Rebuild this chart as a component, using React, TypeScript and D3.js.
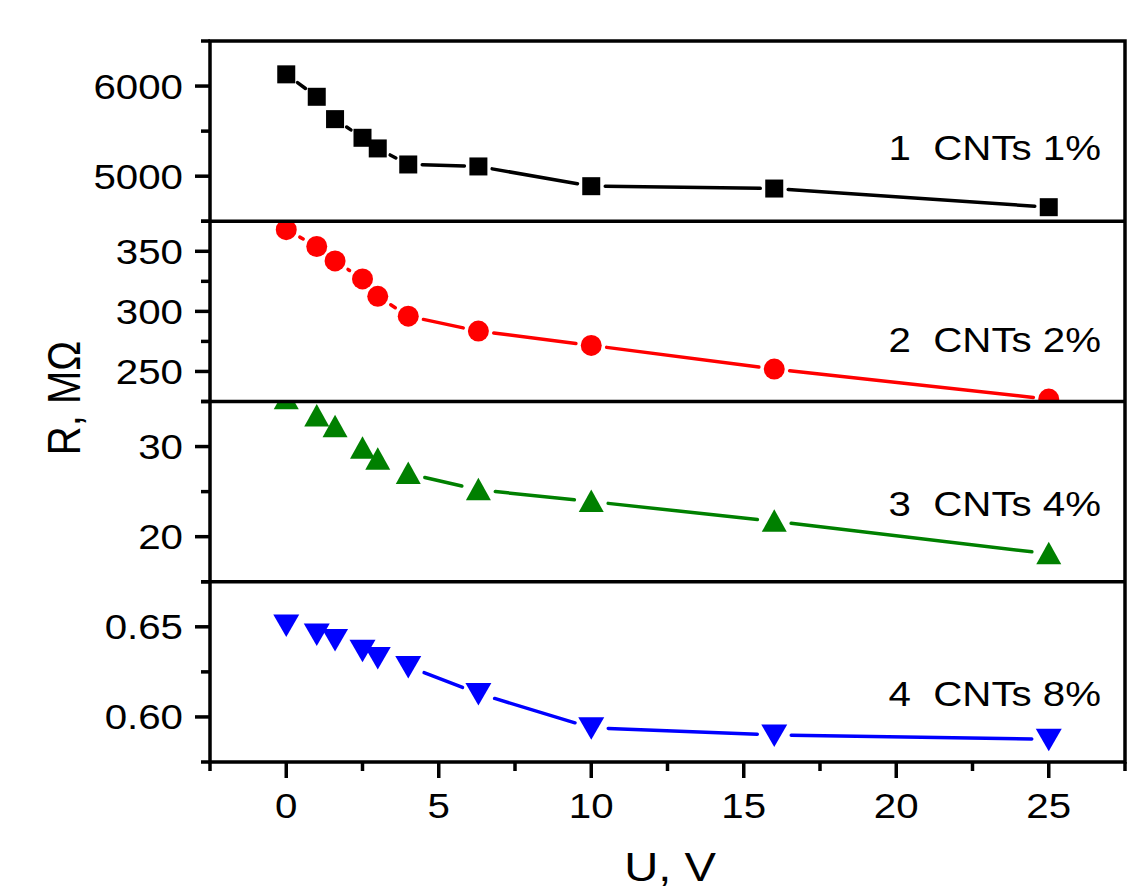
import React from "react";
import * as d3 from "d3";

const voltages = [0, 1, 1.6, 2.5, 3, 4, 6.3, 10, 16, 25];
const series1 = [6130, 5881, 5633, 5426, 5308, 5130, 5108, 4889, 4863, 4656];
const series2 = [368, 354, 342, 327, 312.5, 296, 283.6, 271.7, 252, 227];
const series3 = [35.3, 33.4, 32.2, 29.8, 28.6, 27.0, 25.2, 23.9, 21.7, 18.1];
const series4 = [0.651, 0.646, 0.643, 0.637, 0.633, 0.628, 0.613, 0.594, 0.590, 0.5876];

const labels = ["1  CNTs 1%", "2  CNTs 2%", "3  CNTs 4%", "4  CNTs 8%"];
const colors = ["#000000", "#ff0000", "#008000", "#0000ff"];
const symbols = ["square", "circle", "up", "down"];
const domains: [number, number][] = [[4500, 6500], [225, 375], [15, 35], [0.575, 0.675]];
const majorTicks = [[5000, 6000], [250, 300, 350], [20, 30], [0.6, 0.65]];
const minorTicks = [[4500, 5500, 6500], [225, 275, 325, 375], [15, 25, 35], [0.575, 0.625, 0.675]];
const tickFormats = [(v: number) => String(v), (v: number) => String(v), (v: number) => String(v), (v: number) => v.toFixed(2)];
const xMajor = [0, 5, 10, 15, 20, 25];
const xMinor = [-2.5, 2.5, 7.5, 12.5, 17.5, 22.5, 27.5];
const labelBaselineOffsets = [119, 131, 114, 124];

const W = 1147, H = 890;
const left = 210, right = 1125, top = 41, bottom = 762;
const panelH = (bottom - top) / 4;
const SX = 1.15;
const FONT = "'Liberation Sans', Arial, sans-serif";

function Marker({ type, x, y, color }: { type: string; x: number; y: number; color: string }) {
  if (type === "square") return <rect x={x - 9} y={y - 9} width={18} height={18} fill={color} />;
  if (type === "circle") return <circle cx={x} cy={y} r={10.5} fill={color} />;
  if (type === "up") return <path d={`M${x},${y - 12}L${x + 12.5},${y + 10.5}L${x - 12.5},${y + 10.5}Z`} fill={color} />;
  return <path d={`M${x},${y + 12}L${x + 13},${y - 10.5}L${x - 13},${y - 10.5}Z`} fill={color} />;
}

function T({ x, y, size, anchor, children, rotate }: any) {
  const tr = `translate(${x},${y}) scale(${SX},1)` + (rotate ? ` rotate(${rotate})` : "");
  return (
    <text transform={tr} fontSize={size} fontFamily={FONT} textAnchor={anchor || "start"} fill="#000" style={{ whiteSpace: "pre" }}>
      {children}
    </text>
  );
}

export default function App() {
  const x = d3.scaleLinear().domain([-2.5, 27.5]).range([left, right]);
  const allSeries = [series1, series2, series3, series4];
  const gapR = [9, 10.5, 12, 12];

  return (
    <svg width={W} height={H} style={{ position: "absolute", left: 0, top: 0, background: "#fff" }}>
      <rect width={W} height={H} fill="#fff" />
      <defs>
        {allSeries.map((_, i) => (
          <clipPath id={`clip${i}`} key={i}>
            <rect x={left} y={top + i * panelH} width={right - left} height={panelH} />
          </clipPath>
        ))}
      </defs>
      {allSeries.map((vals, i) => {
        const y0 = top + i * panelH;
        const y = d3.scaleLinear().domain(domains[i]).range([y0 + panelH, y0]);
        const pts = voltages.map((v, k) => [x(v), y(vals[k])]);
        const segs: JSX.Element[] = [];
        for (let k = 0; k < pts.length - 1; k++) {
          const [x1, y1] = pts[k];
          const [x2, y2] = pts[k + 1];
          const len = Math.hypot(x2 - x1, y2 - y1);
          const g = gapR[i] + 5;
          if (len <= 2 * g + 1) continue;
          const ux = (x2 - x1) / len, uy = (y2 - y1) / len;
          segs.push(
            <line key={k} x1={x1 + ux * g} y1={y1 + uy * g} x2={x2 - ux * g} y2={y2 - uy * g}
              stroke={colors[i]} strokeWidth={3.5} strokeLinecap="round" />
          );
        }
        return (
          <g key={i}>
            <g clipPath={`url(#clip${i})`}>
              {segs}
              {pts.map(([px, py], k) => (
                <Marker key={k} type={symbols[i]} x={px} y={py} color={colors[i]} />
              ))}
            </g>
            {majorTicks[i].map((t) => (
              <g key={"M" + t}>
                <line x1={left - 15} x2={left} y1={y(t)} y2={y(t)} stroke="#000" strokeWidth={3.5} />
                <T x={183} y={y(t) + 12.5} size={35} anchor="end">{tickFormats[i](t)}</T>
              </g>
            ))}
            {minorTicks[i].map((t) => (
              <line key={"m" + t} x1={left - 9} x2={left} y1={y(t)} y2={y(t)} stroke="#000" strokeWidth={3.5} />
            ))}
            <T x={1101} y={y0 + labelBaselineOffsets[i]} size={35} anchor="end">{labels[i]}</T>
          </g>
        );
      })}
      {[1, 2, 3].map((i) => (
        <line key={i} x1={left} x2={right} y1={top + i * panelH} y2={top + i * panelH} stroke="#000" strokeWidth={3.5} />
      ))}
      <rect x={left} y={top} width={right - left} height={bottom - top} fill="none" stroke="#000" strokeWidth={3.5} />
      {xMajor.map((t) => (
        <g key={"x" + t}>
          <line x1={x(t)} x2={x(t)} y1={bottom} y2={bottom + 16} stroke="#000" strokeWidth={3.5} />
          <T x={x(t)} y={818} size={35} anchor="middle">{String(t)}</T>
        </g>
      ))}
      {xMinor.map((t) => (
        <line key={"xm" + t} x1={x(t)} x2={x(t)} y1={bottom} y2={bottom + 9} stroke="#000" strokeWidth={3.5} />
      ))}
      <T x={670} y={881} size={41} anchor="middle">U, V</T>
      <T x={80} y={398} size={40} anchor="middle" rotate={-90}>R, MΩ</T>
    </svg>
  );
}
